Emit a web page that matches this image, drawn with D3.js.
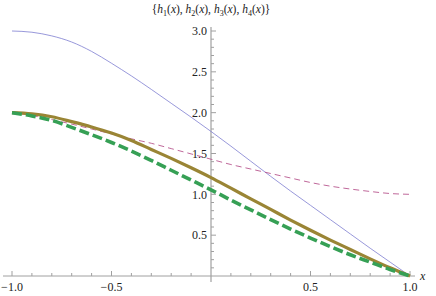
<!DOCTYPE html>
<html>
<head>
<meta charset="utf-8">
<script src="https://cdn.jsdelivr.net/npm/d3@7"></script>
<style>
  body { margin: 0; background: #fff; }
  svg { display: block; }
  text { font-family: "Times New Roman", Times, "Liberation Serif", "Nimbus Roman", "Nimbus Roman No9 L", "Noto Serif", "DejaVu Serif", FreeSerif, Georgia, serif; }
</style>
</head>
<body>
<div id="chart"></div>
<script>
// sample points
const xs = [-1, -0.9, -0.8, -0.7, -0.6, -0.5, -0.4, -0.3, -0.2, -0.1, 0,
            0.1, 0.2, 0.3, 0.4, 0.5, 0.6, 0.7, 0.8, 0.9, 1];
const h1 = [3.0, 2.985, 2.94, 2.865, 2.75, 2.605, 2.45, 2.285, 2.115, 1.945, 1.77,
            1.59, 1.405, 1.22, 1.04, 0.865, 0.69, 0.515, 0.34, 0.17, 0];
const h2 = [2.0, 1.965, 1.915, 1.86, 1.80, 1.74, 1.68, 1.625, 1.56, 1.495, 1.43,
            1.365, 1.31, 1.255, 1.2, 1.145, 1.1, 1.065, 1.035, 1.01, 1.0];
const h3 = [2.0, 1.985, 1.95, 1.89, 1.825, 1.75, 1.66, 1.55, 1.44, 1.325, 1.205,
            1.075, 0.945, 0.815, 0.685, 0.56, 0.44, 0.325, 0.21, 0.10, 0];
const h4 = [2.0, 1.96, 1.905, 1.82, 1.73, 1.635, 1.53, 1.415, 1.295, 1.175, 1.055,
            0.93, 0.81, 0.69, 0.575, 0.465, 0.36, 0.26, 0.17, 0.08, 0];

const xMajor = [-1, -0.5, 0.5, 1];
const xMajorLabels = ["\u22121.0", "\u22120.5", "0.5", "1.0"];
const yMajor = [0.5, 1, 1.5, 2, 2.5, 3];
const yMajorLabels = ["0.5", "1.0", "1.5", "2.0", "2.5", "3.0"];
const titleParts = ["1", "2", "3", "4"];

const width = 436, height = 296;

let svg = d3.select("#chart").append("svg")
    .attr("width", width)
    .attr("height", height);

svg.append("rect").attr("width", width).attr("height", height).attr("fill", "#fff");

let xScale = d3.scaleLinear().domain([-1, 1]).range([12, 410]);
let yScale = d3.scaleLinear().domain([0, 3]).range([276, 31]);

// minor ticks every 0.1, skipping the majors and the origin
let minors = d3.range(-10, 11).map(d => d / 10)
    .filter(d => Math.abs(d * 2 - Math.round(d * 2)) > 1e-6);
let yMinors = d3.range(1, 31).map(d => d / 10)
    .filter(d => Math.abs(d * 2 - Math.round(d * 2)) > 1e-6);

let axisColor = "#a0a0a0";

// x axis (ticks pointing up)
let gx = svg.append("g").attr("transform", "translate(0," + yScale(0) + ")");
gx.append("line")
    .attr("x1", 3).attr("x2", 415)
    .attr("stroke", axisColor).attr("stroke-width", 1);
gx.selectAll(".xmajor").data(xMajor).enter().append("line")
    .attr("class", "xmajor")
    .attr("x1", d => xScale(d)).attr("x2", d => xScale(d))
    .attr("y1", 0).attr("y2", -5)
    .attr("stroke", axisColor);
gx.selectAll(".xminor").data(minors).enter().append("line")
    .attr("class", "xminor")
    .attr("x1", d => xScale(d)).attr("x2", d => xScale(d))
    .attr("y1", 0).attr("y2", -3)
    .attr("stroke", axisColor);
gx.selectAll(".xlabel").data(xMajor).enter().append("text")
    .attr("class", "xlabel")
    .attr("x", d => xScale(d))
    .attr("y", 15)
    .attr("text-anchor", "middle")
    .style("font-size", "12px")
    .attr("fill", "#222")
    .text((d, i) => xMajorLabels[i]);

// y axis (ticks pointing right, labels on the left)
let gy = svg.append("g").attr("transform", "translate(" + xScale(0) + ",0)");
gy.append("line")
    .attr("y1", 27).attr("y2", 282)
    .attr("stroke", axisColor).attr("stroke-width", 1.2);
gy.selectAll(".ymajor").data(yMajor).enter().append("line")
    .attr("class", "ymajor")
    .attr("y1", d => yScale(d)).attr("y2", d => yScale(d))
    .attr("x1", 0).attr("x2", 5)
    .attr("stroke", axisColor);
gy.selectAll(".yminor").data(yMinors).enter().append("line")
    .attr("class", "yminor")
    .attr("y1", d => yScale(d)).attr("y2", d => yScale(d))
    .attr("x1", 0).attr("x2", 3)
    .attr("stroke", axisColor);
gy.selectAll(".ylabel").data(yMajor).enter().append("text")
    .attr("class", "ylabel")
    .attr("x", -4)
    .attr("y", d => yScale(d))
    .attr("dy", "0.35em")
    .attr("text-anchor", "end")
    .style("font-size", "12px")
    .attr("fill", "#222")
    .text((d, i) => yMajorLabels[i]);

// axis label
svg.append("text")
    .attr("x", 420).attr("y", 280)
    .style("font-size", "12px")
    .style("font-style", "italic")
    .attr("fill", "#222")
    .text("x");

// title {h1(x), h2(x), h3(x), h4(x)}
let title = svg.append("text")
    .attr("x", xScale(0)).attr("y", 13)
    .attr("text-anchor", "middle")
    .style("font-size", "11.5px")
    .attr("fill", "#222");
title.append("tspan").text("{");
titleParts.forEach(function (n, i) {
  title.append("tspan").style("font-style", "italic").text("h");
  title.append("tspan").attr("dy", 2.5).style("font-size", "8px").text(n);
  title.append("tspan").attr("dy", -2.5).text("(");
  title.append("tspan").style("font-style", "italic").text("x");
  title.append("tspan").text(i < titleParts.length - 1 ? "), " : ")");
});
title.append("tspan").text("}");

// curves
let series = [
  { values: h1, color: "#7d7dd0", width: 0.8, dash: null },
  { values: h2, color: "#b8578f", width: 0.9, dash: "6,4" },
  { values: h3, color: "#9a8535", width: 3.2, dash: null },
  { values: h4, color: "#36a055", width: 3.6, dash: "10,4" }
];

let line = d3.line()
    .x(d => xScale(d[0]))
    .y(d => yScale(d[1]))
    .curve(d3.curveMonotoneX);

series.forEach(function (s) {
  svg.append("path")
      .datum(xs.map((x, i) => [x, s.values[i]]))
      .attr("d", line)
      .attr("fill", "none")
      .attr("stroke", s.color)
      .attr("stroke-width", s.width)
      .attr("stroke-dasharray", s.dash);
});
</script>
</body>
</html>
